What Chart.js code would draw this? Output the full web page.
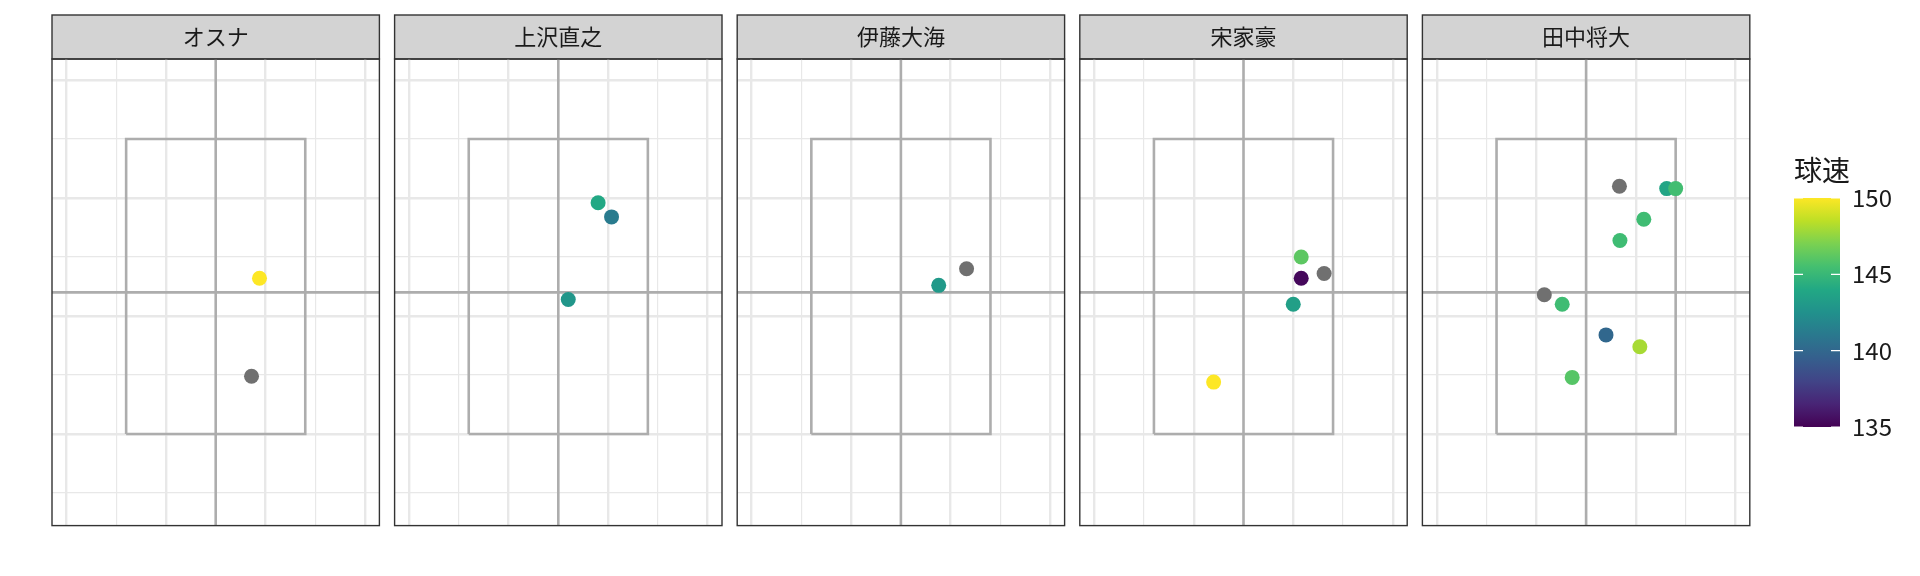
<!DOCTYPE html>
<html><head><meta charset="utf-8">
<script src="https://cdn.jsdelivr.net/npm/chart.js@4.4.1/dist/chart.umd.min.js"></script>
<style>
html,body{margin:0;padding:0;background:#fff;}
#wrap{position:relative;width:1920px;height:576px;overflow:hidden;background:#fff;}
#wrap canvas{position:absolute;top:0;}
</style></head><body><div id="wrap"></div>
<script>
// ---------- data ----------
const PITCHERS = ['オスナ', '上沢直之', '伊藤大海', '宋家豪', '田中将大'];
const PLATE_X = [
  [0.44, 0.36],
  [0.40, 0.535, 0.10],
  [0.38, 0.66],
  [0.58, 0.58, 0.81, 0.50, -0.30],
  [0.335, 0.81, 0.90, 0.58, 0.34, -0.42, -0.24, 0.20, 0.54, -0.14]
];
const PLATE_Z = [
  [2.32, 1.49],
  [2.96, 2.84, 2.14],
  [2.26, 2.40],
  [2.50, 2.32, 2.36, 2.10, 1.44],
  [3.10, 3.08, 3.08, 2.82, 2.64, 2.18, 2.10, 1.84, 1.74, 1.48]
];
const SPEED = [
  [150, null],
  [144.0, 141.2, 142.8],
  [143.0, null],
  [146.2, 135.3, null, 143.4, 150],
  [null, 143.8, 145.4, 145.3, 145.3, null, 145.3, 140.0, 148.0, 146.0]
];
const X_TICKS = [-1.5, -1, -0.5, 0, 0.5, 1, 1.5];
const X_MAJOR = [-1.5, -0.5, 0.5, 1.5];
const Y_TICKS = [0.5, 1, 1.5, 2, 2.5, 3, 3.5, 4];
const Y_MAJOR = [1, 2, 3, 4];
const X_RANGE = [-1.645, 1.645];
const Y_RANGE = [0.224, 4.178];
const ZONE_X = [-0.9, 0.9];
const ZONE_Y = [1.0, 3.5];
const CROSS_X = 0;
const CROSS_Y = 2.2;
const SPEED_LIMITS = [135, 150];
const SPEED_TICKS = [135, 140, 145, 150];
const LEGEND_TITLE = '球速';

// ---------- styles / layout ----------
const FONT = "'Noto Sans CJK JP', 'Noto Sans', sans-serif";
const VIRIDIS = ['#440154','#482475','#414487','#355F8D','#2A788E','#21918C','#22A884','#44BF70','#7AD151','#BDDF26','#FDE725'];
const NA_COLOR = '#707070';
const PANEL_LEFT0 = 52, PANEL_STEP = 342.6, PANEL_W = 327.4;
const STRIP_TOP = 15, STRIP_BOTTOM = 59, PANEL_BOTTOM = 525.6, CANVAS_H = 576;

function hex2rgb(h){ return [1,3,5].map(i => parseInt(h.substr(i,2),16)); }
const VIR_RGB = VIRIDIS.map(hex2rgb);
function viridis(t){
  t = Math.max(0, Math.min(1, t));
  const p = t * (VIR_RGB.length - 1);
  const i = Math.min(Math.floor(p), VIR_RGB.length - 2);
  const f = p - i;
  const c = VIR_RGB[i].map((v, k) => Math.round(v + (VIR_RGB[i+1][k] - v) * f));
  return `rgb(${c[0]},${c[1]},${c[2]})`;
}
function speedColor(s){
  if (s === null || s === undefined) return NA_COLOR;
  return viridis((s - SPEED_LIMITS[0]) / (SPEED_LIMITS[1] - SPEED_LIMITS[0]));
}

const wrap = document.getElementById('wrap');
function makeCanvas(left, width){
  const c = document.createElement('canvas');
  c.width = width; c.height = CANVAS_H;
  c.style.left = left + 'px';
  c.style.width = width + 'px'; c.style.height = CANVAS_H + 'px';
  wrap.appendChild(c);
  return c;
}

const facetPlugin = {
  id: 'facet',
  beforeDraw(chart){
    const {ctx, chartArea: a} = chart;
    ctx.save();
    ctx.fillStyle = '#D3D3D3';
    ctx.fillRect(a.left, STRIP_TOP, a.width, a.top - STRIP_TOP);
    ctx.strokeStyle = '#333333';
    ctx.lineWidth = 1.4;
    ctx.strokeRect(a.left, STRIP_TOP, a.width, a.top - STRIP_TOP);
    ctx.restore();
  },
  afterDraw(chart){
    const {ctx, chartArea: a} = chart;
    ctx.save();
    ctx.strokeStyle = '#333333';
    ctx.lineWidth = 1.4;
    ctx.strokeRect(a.left, a.top, a.width, a.height);
    ctx.restore();
  }
};

const gridWidth = (majors) => (c) => (c.tick && majors.includes(c.tick.value)) ? 2.4 : 1.2;

PITCHERS.forEach((name, i) => {
  const pl = PANEL_LEFT0 + i * PANEL_STEP;
  const pr = pl + PANEL_W;
  const cl = Math.floor(pl) - 4;
  const cw = Math.ceil(pr) + 4 - cl;
  const canvas = makeCanvas(cl, cw);
  const points = PLATE_X[i].map((x, j) => ({x: x, y: PLATE_Z[i][j]}));
  const zone = [
    {x: ZONE_X[0], y: ZONE_Y[0]}, {x: ZONE_X[1], y: ZONE_Y[0]},
    {x: ZONE_X[1], y: ZONE_Y[1]}, {x: ZONE_X[0], y: ZONE_Y[1]},
    {x: ZONE_X[0], y: ZONE_Y[0]}
  ];
  const vline = [{x: CROSS_X, y: Y_RANGE[0]}, {x: CROSS_X, y: Y_RANGE[1]}];
  const hline = [{x: X_RANGE[0], y: CROSS_Y}, {x: X_RANGE[1], y: CROSS_Y}];
  const lineDs = (d) => ({data: d, showLine: true, pointRadius: 0, pointHoverRadius: 0,
    borderColor: '#ADADAD', borderWidth: 2.6, fill: false, borderJoinStyle: 'miter', tension: 0});
  new Chart(canvas, {
    type: 'scatter',
    data: {
      datasets: [
        {data: points, pointRadius: 7.5, pointHoverRadius: 7.5, pointBorderWidth: 0,
         pointBackgroundColor: SPEED[i].map(speedColor), pointBorderColor: 'rgba(0,0,0,0)'},
        lineDs(zone), lineDs(vline), lineDs(hline)
      ]
    },
    options: {
      responsive: false, animation: false, devicePixelRatio: 1,
      layout: {autoPadding: false,
        padding: {left: pl - cl, right: cl + cw - pr, top: 0, bottom: CANVAS_H - PANEL_BOTTOM}},
      plugins: {
        legend: {display: false}, tooltip: {enabled: false},
        title: {display: true, text: name, align: 'center', color: '#1A1A1A',
          font: {family: FONT, size: 22, weight: 'normal', lineHeight: 1.2},
          padding: {top: 37 - 13.2, bottom: STRIP_BOTTOM - (37 - 13.2) - 26.4}}
      },
      scales: {
        x: {type: 'linear', min: X_RANGE[0], max: X_RANGE[1],
          afterBuildTicks: (s) => { s.ticks = X_TICKS.map(v => ({value: v})); },
          ticks: {display: false}, border: {display: false},
          grid: {color: '#E8E8E8', lineWidth: gridWidth(X_MAJOR), drawTicks: false}},
        y: {type: 'linear', min: Y_RANGE[0], max: Y_RANGE[1],
          afterBuildTicks: (s) => { s.ticks = Y_TICKS.map(v => ({value: v})); },
          ticks: {display: false}, border: {display: false},
          grid: {color: '#E8E8E8', lineWidth: gridWidth(Y_MAJOR), drawTicks: false}}
      }
    },
    plugins: [facetPlugin]
  });
});

// ---------- colour bar legend ----------
const BAR_LEFT = 1794, BAR_W = 46, BAR_TOP = 197.9, BAR_BOTTOM = 427.1, LABEL_AREA = 80;
const legendCanvas = makeCanvas(BAR_LEFT, BAR_W + LABEL_AREA);
const legendTicksPlugin = {
  id: 'legendTicks',
  afterDatasetsDraw(chart){
    const {ctx, chartArea: a, scales} = chart;
    ctx.save();
    ctx.strokeStyle = '#FFFFFF';
    ctx.lineWidth = 1.2;
    SPEED_TICKS.forEach(v => {
      const y = scales.y.getPixelForValue(v);
      ctx.beginPath();
      ctx.moveTo(a.left, y); ctx.lineTo(a.left + 9, y);
      ctx.moveTo(a.right - 9, y); ctx.lineTo(a.right, y);
      ctx.stroke();
    });
    ctx.restore();
  }
};
new Chart(legendCanvas, {
  type: 'bar',
  data: {
    labels: [LEGEND_TITLE],
    datasets: [{
      data: [SPEED_LIMITS.slice()],
      categoryPercentage: 1, barPercentage: 1, borderWidth: 0,
      backgroundColor: (c) => {
        const chart = c.chart;
        const a = chart.chartArea;
        if (!a) return VIRIDIS[5];
        const y = chart.scales.y;
        const g = chart.ctx.createLinearGradient(0, y.getPixelForValue(SPEED_LIMITS[0]), 0, y.getPixelForValue(SPEED_LIMITS[1]));
        VIRIDIS.forEach((col, k) => g.addColorStop(k / (VIRIDIS.length - 1), col));
        return g;
      }
    }]
  },
  options: {
    responsive: false, animation: false, devicePixelRatio: 1,
    layout: {autoPadding: false, padding: {left: 0, right: 0, top: 0, bottom: CANVAS_H - BAR_BOTTOM}},
    plugins: {
      legend: {display: false}, tooltip: {enabled: false},
      title: {display: true, text: LEGEND_TITLE, align: 'start', color: '#1A1A1A',
        font: {family: FONT, size: 28, weight: 'normal', lineHeight: 1.2},
        padding: {top: 170 - 16.8, bottom: BAR_TOP - (170 - 16.8) - 33.6}}
    },
    scales: {
      x: {display: false},
      y: {position: 'right', min: SPEED_LIMITS[0], max: SPEED_LIMITS[1],
        afterBuildTicks: (s) => { s.ticks = SPEED_TICKS.map(v => ({value: v})); },
        afterFit: (s) => { s.width = LABEL_AREA; },
        grid: {display: false, drawTicks: false}, border: {display: false},
        ticks: {padding: 12, color: '#1A1A1A', font: {family: FONT, size: 24}}}
    }
  },
  plugins: [legendTicksPlugin]
});
</script></body></html>
